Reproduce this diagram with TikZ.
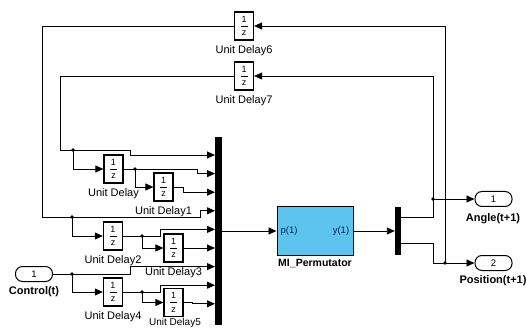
\documentclass[tikz,border=0pt]{standalone}
\usepackage{fontspec}
\setmainfont{Liberation Sans}
\usetikzlibrary{arrows.meta}
\newcommand{\UDel}[4]{%
  \node[udbox] (#1) at (#2,#3) {};
  \node[udtxt] at ([yshift=7pt]#1.center) {1};
  \draw[line width=0.7pt] ([xshift=-3.5pt]#1.center) -- ([xshift=3.5pt]#1.center);
  \node[udtxt] at ([yshift=-7.5pt]#1.center) {z};
  \node[lbl,anchor=north] at ([yshift=-4.5pt]#1.south) {#4};
}
\begin{document}
\begin{tikzpicture}[x=1pt,y=-1pt,
  wire/.style={line width=0.9pt},
  sig/.style={wire,-{Triangle[length=8pt,width=7pt]}},
  udbox/.style={draw,line width=1.2pt,minimum width=19pt,minimum height=28pt,inner sep=0},
  udtxt/.style={font=\fontsize{9}{9}\selectfont,inner sep=0},
  lbl/.style={font=\fontsize{11}{12}\selectfont,inner sep=0},
  blbl/.style={inner sep=0,font=\fontsize{11}{12}\selectfont\bfseries},
  port/.style={draw,line width=1pt,rounded corners=7pt,minimum width=37pt,minimum height=15pt,inner sep=0,font=\fontsize{9.5}{9.5}\selectfont},
  jdot/.style={circle,fill,inner sep=0,minimum size=3.8pt},
  bar/.style={fill=black,draw=none,inner sep=0}
]
\useasboundingbox (0,0) rectangle (526,328);

% mux / demux
\node[bar,minimum width=7pt,minimum height=188pt] (mux) at (218.5,231) {};
\node[bar,minimum width=6pt,minimum height=48pt] (demux) at (398,231) {};
\coordinate (m1) at (215,155);
\coordinate (m2) at (215,173.6);
\coordinate (m3) at (215,192.2);
\coordinate (m4) at (215,210.8);
\coordinate (m5) at (215,229.4);
\coordinate (m6) at (215,248);
\coordinate (m7) at (215,266.6);
\coordinate (m8) at (215,285.2);
\coordinate (m9) at (215,303.8);
\coordinate (d1) at (401,217);
\coordinate (d2) at (401,243);

% permutator
\node[draw,line width=1pt,fill={rgb,255:red,92;green,196;blue,238},minimum width=76pt,minimum height=49pt,inner sep=0] (perm) at (315,231) {};
\node[inner sep=0,font=\fontsize{9.5}{9.5}\selectfont,text={rgb,255:red,20;green,30;blue,80}] (pin) at (289,231) {p(1)};
\node[inner sep=0,font=\fontsize{9.5}{9.5}\selectfont,text={rgb,255:red,20;green,30;blue,80}] (pout) at (341,231) {y(1)};
\node[inner sep=0,font=\fontsize{10.5}{12}\selectfont\bfseries,anchor=north] (permlbl) at (315,259.5) {MI\_Permutator};

% ports
\node[port] (ctl) at (34,274) {1};
\node[blbl] (ctllbl) at (34,292) {Control(t)};
\node[port] (out1) at (493.5,199) {1};
\node[blbl] (out1lbl) at (493,219) {Angle(t+1)};
\node[port] (out2) at (493.5,263) {2};
\node[blbl] (out2lbl) at (493,281) {Position(t+1)};

% unit delays
\UDel{ud6}{244}{26}{Unit Delay6}
\UDel{ud7}{244}{76}{Unit Delay7}
\UDel{ud}{113.5}{169}{Unit Delay}
\UDel{ud1}{163.5}{187}{Unit Delay1}
\UDel{ud2}{113}{236}{Unit Delay2}
\UDel{ud3}{173.5}{248}{Unit Delay3}
\UDel{ud4}{113}{292}{Unit Delay4}
% Unit Delay5 (label placed to fit the lower edge)
\node[udbox] (ud5) at (173.5,302.5) {};
\node[udtxt] at ([yshift=7pt]ud5.center) {1};
\draw[line width=0.7pt] ([xshift=-3.5pt]ud5.center) -- ([xshift=3.5pt]ud5.center);
\node[udtxt] at ([yshift=-7.5pt]ud5.center) {z};
\node[lbl,anchor=south,font=\fontsize{10}{11}\selectfont] (ud5lbl) at (175,328) {Unit Delay5};

% junctions
\node[jdot] (jA) at (433,199) {};
\node[jdot] (jP) at (445,263) {};
\node[jdot] (j7) at (73,150) {};
\node[jdot] (ju) at (135,169) {};
\node[jdot] (j6) at (72,217) {};
\node[jdot] (ju2) at (142,236) {};
\node[jdot] (jc) at (72,274) {};
\node[jdot] (ju4) at (142,292) {};

% main path
\draw[sig] (mux.east |- perm.west) -- (perm.west);
\draw[sig] (perm.east) -- (demux.west);

% outputs and feedback
\draw[wire] (d1) -- (433,217) -- (jA.center);
\draw[sig] (jA.center) -- (out1.west);
\draw[sig] (jA.center) -- (433,76) -- (ud7.east);
\draw[wire] (d2) -- (433,243) -- (433,263) -- (jP.center);
\draw[sig] (jP.center) -- (out2.west);
\draw[sig] (jP.center) -- (445,26) -- (ud6.east);

% chain from Unit Delay7
\draw[wire] (ud7.west) -- (60,76) -- (60,150) -- (j7.center);
\draw[sig] (j7.center) -- (130,150) -- (130,155) -- (m1);
\draw[sig] (j7.center) -- (73,169) -- (ud.west);
\draw[wire] (ud.east) -- (ju.center);
\draw[sig] (ju.center) -- (197,169) -- (197,173.6) -- (m2);
\draw[sig] (ju.center) -- (135,187) -- (ud1.west);
\draw[sig] (ud1.east) -- (183,187) -- (183,192.2) -- (m3);

% chain from Unit Delay6
\draw[wire] (ud6.west) -- (42,26) -- (42,217) -- (j6.center);
\draw[sig] (j6.center) -- (200,217) -- (200,210.8) -- (m4);
\draw[sig] (j6.center) -- (72,236) -- (ud2.west);
\draw[wire] (ud2.east) -- (ju2.center);
\draw[sig] (ju2.center) -- (160,236) -- (160,229.4) -- (m5);
\draw[sig] (ju2.center) -- (142,248) -- (ud3.west);
\draw[sig] (ud3.east) -- (m6);

% chain from Control(t)
\draw[wire] (ctl.east) -- (jc.center);
\draw[sig] (jc.center) -- (130,274) -- (130,266.6) -- (m7);
\draw[sig] (jc.center) -- (72,292) -- (ud4.west);
\draw[wire] (ud4.east) -- (ju4.center);
\draw[sig] (ju4.center) -- (160,292) -- (160,285.2) -- (m8);
\draw[sig] (ju4.center) -- (142,302.5) -- (ud5.west);
\draw[sig] (ud5.east) -- (192,302.5) -- (192,303.8) -- (m9);
\end{tikzpicture}
\end{document}
